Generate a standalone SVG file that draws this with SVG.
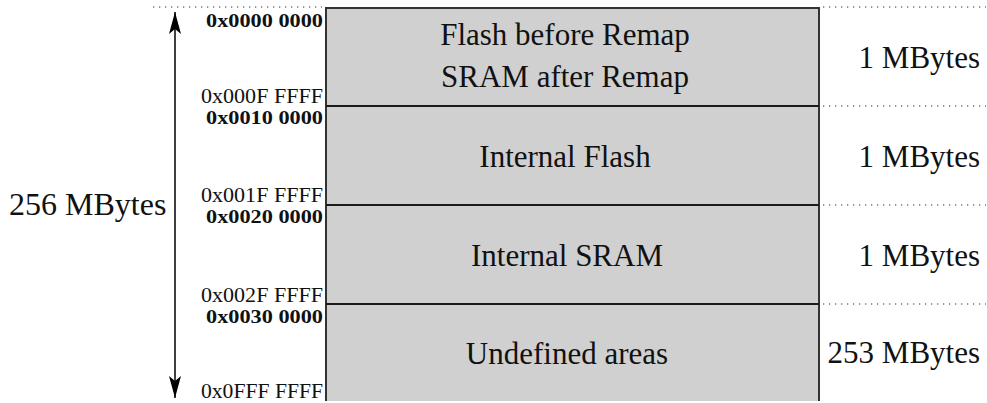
<svg xmlns="http://www.w3.org/2000/svg" width="987" height="403" viewBox="0 0 987 403">
  <style>
    .region { fill: #d0d0d0; stroke: none; }
    .divider { stroke: #1a1a1a; stroke-width: 2; }
    .frame { fill: none; stroke: #333; stroke-width: 2; }
    .dots { stroke: #777; stroke-width: 1.3; stroke-dasharray: 1.3 4.7; }
    .t { font-family: "Liberation Serif", "Times New Roman", serif; fill: #111; }
    .big { font-size: 31px; }
    .total { font-size: 32px; }
    .addr { font-size: 20px; text-anchor: end; }
    .addrb { font-size: 19px; font-weight: bold; text-anchor: end; }
    .mid { text-anchor: middle; }
    .right { text-anchor: end; }
  </style>
  <defs>
    <marker id="head" viewBox="0 0 22 12" refX="22" refY="6" markerWidth="22" markerHeight="12" markerUnits="userSpaceOnUse" orient="auto-start-reverse">
      <path d="M0,0 L22,6 L0,12 L5,6 Z" fill="#000"/>
    </marker>
  </defs>
  <rect width="987" height="403" fill="#fff"/>

  <!-- size rulers -->
  <g id="guides">
    <line class="dots" x1="153" y1="7" x2="322" y2="7"/>
    <line class="dots" x1="823" y1="7" x2="986" y2="7"/>
    <line class="dots" x1="823" y1="106" x2="986" y2="106"/>
    <line class="dots" x1="823" y1="205" x2="986" y2="205"/>
    <line class="dots" x1="823" y1="304" x2="986" y2="304"/>
  </g>

  <!-- memory map regions -->
  <g id="region-remap">
    <rect class="region" x="326" y="8" width="493" height="98"/>
    <text class="t big mid" x="565" y="45">Flash before Remap</text>
    <text class="t big mid" x="565" y="87">SRAM after Remap</text>
    <text class="t big right" x="980" y="68">1 MBytes</text>
    <text class="t addrb" x="323" y="27" textLength="117" lengthAdjust="spacingAndGlyphs">0x0000 0000</text>
    <text class="t addr" x="323" y="103" textLength="122" lengthAdjust="spacingAndGlyphs">0x000F FFFF</text>
  </g>
  <g id="region-flash">
    <rect class="region" x="326" y="106" width="493" height="99"/>
    <text class="t big mid" x="565" y="167">Internal Flash</text>
    <text class="t big right" x="980" y="167">1 MBytes</text>
    <text class="t addrb" x="323" y="124" textLength="117" lengthAdjust="spacingAndGlyphs">0x0010 0000</text>
    <text class="t addr" x="323" y="202" textLength="122" lengthAdjust="spacingAndGlyphs">0x001F FFFF</text>
  </g>
  <g id="region-sram">
    <rect class="region" x="326" y="205" width="493" height="99"/>
    <text class="t big mid" x="567" y="266">Internal SRAM</text>
    <text class="t big right" x="980" y="266">1 MBytes</text>
    <text class="t addrb" x="323" y="223" textLength="117" lengthAdjust="spacingAndGlyphs">0x0020 0000</text>
    <text class="t addr" x="323" y="302" textLength="122" lengthAdjust="spacingAndGlyphs">0x002F FFFF</text>
  </g>
  <g id="region-undefined">
    <rect class="region" x="326" y="304" width="493" height="97"/>
    <text class="t big mid" x="567" y="364">Undefined areas</text>
    <text class="t big right" x="980" y="363">253 MBytes</text>
    <text class="t addrb" x="323" y="323" textLength="117" lengthAdjust="spacingAndGlyphs">0x0030 0000</text>
    <text class="t addr" x="323" y="398" textLength="122" lengthAdjust="spacingAndGlyphs">0x0FFF FFFF</text>
  </g>

  <!-- outline and boundaries -->
  <g id="connectors">
    <path class="frame" d="M326,401 V8 H819 V401"/>
    <line class="divider" x1="326" y1="106" x2="819" y2="106"/>
    <line class="divider" x1="326" y1="205" x2="819" y2="205"/>
    <line class="divider" x1="326" y1="304" x2="819" y2="304"/>
    <line x1="175" y1="12" x2="175" y2="398" stroke="#000" stroke-width="1.5" marker-start="url(#head)" marker-end="url(#head)"/>
  </g>

  <g id="total">
    <text class="t total" x="9" y="215">256 MBytes</text>
  </g>
</svg>
